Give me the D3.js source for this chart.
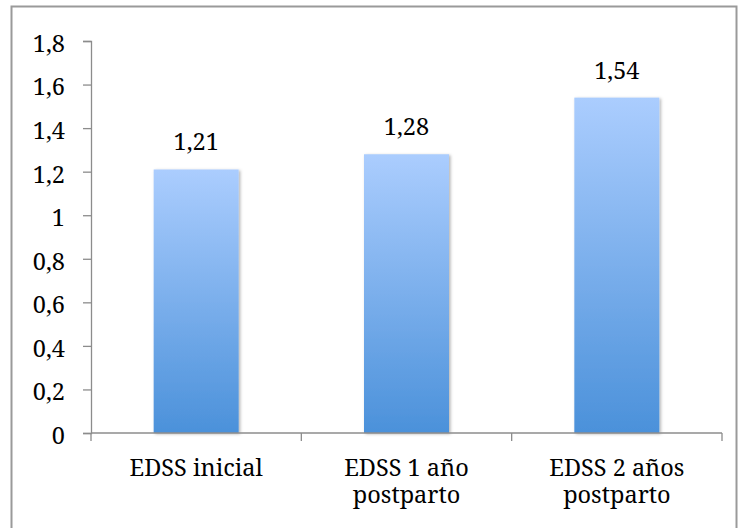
<!DOCTYPE html>
<html>
<head>
<meta charset="utf-8">
<script src="https://cdn.jsdelivr.net/npm/d3@7"></script>
<style>
  html, body { margin: 0; padding: 0; background: #fff; }
  svg { display: block; }
  text { font-family: "Noto Serif", "Liberation Serif", "DejaVu Serif", serif; fill: #000; }
</style>
</head>
<body>
<svg id="chart" width="748" height="528"></svg>
<script>
// EDSS score at baseline and after delivery
const categories = [["EDSS inicial"], ["EDSS 1 año", "postparto"], ["EDSS 2 años", "postparto"]];
const values = [1.21, 1.28, 1.54];
const yTicks = [0, 0.2, 0.4, 0.6, 0.8, 1, 1.2, 1.4, 1.6, 1.8];

const svg = d3.select("#chart");
const plot = { left: 91, right: 722, top: 41, bottom: 433 };
const fontSize = 23.5;
const fmt = v => d3.format("")(v).replace(".", ",");

// outer frame
svg.append("rect")
  .attr("x", 11.5).attr("y", 6.5)
  .attr("width", 725).attr("height", 540)
  .attr("fill", "#fff")
  .attr("stroke", "#9a9a9a").attr("stroke-width", 2);

const defs = svg.append("defs");
const grad = defs.append("linearGradient")
  .attr("id", "barFill").attr("x1", 0).attr("y1", 0).attr("x2", 0).attr("y2", 1);
grad.append("stop").attr("offset", "0%").attr("stop-color", "#abcdfe");
grad.append("stop").attr("offset", "100%").attr("stop-color", "#4b91da");

const shadow = defs.append("filter").attr("id", "barShadow")
  .attr("x", "-20%").attr("y", "-20%").attr("width", "140%").attr("height", "140%");
shadow.append("feDropShadow")
  .attr("dx", 1.5).attr("dy", 1).attr("stdDeviation", 1.5)
  .attr("flood-color", "#000").attr("flood-opacity", 0.3);

const x = d3.scaleBand()
  .domain(d3.range(categories.length))
  .range([plot.left, plot.right])
  .paddingInner(0).paddingOuter(0);

const y = d3.scaleLinear().domain([0, 1.8]).range([plot.bottom, plot.top]);

const barW = 85;

// bars
svg.append("g").selectAll("rect")
  .data(values)
  .join("rect")
  .attr("x", (d, i) => x(i) + x.bandwidth() / 2 - barW / 2)
  .attr("y", d => y(d))
  .attr("width", barW)
  .attr("height", d => y(0) - y(d))
  .attr("fill", "url(#barFill)")
  .attr("filter", "url(#barShadow)");

// value labels
svg.append("g").selectAll("text")
  .data(values)
  .join("text")
  .attr("x", (d, i) => x(i) + x.bandwidth() / 2)
  .attr("y", d => y(d) - 19)
  .attr("text-anchor", "middle")
  .attr("font-size", fontSize)
  .text(d => fmt(d));

// y axis
const yAxis = svg.append("g")
  .attr("transform", `translate(${plot.left},0)`)
  .call(d3.axisLeft(y).tickValues(yTicks).tickSize(8).tickPadding(18).tickFormat(fmt));
yAxis.attr("font-family", null);
yAxis.select(".domain").attr("stroke", "#8c8c8c").attr("stroke-width", 1.3);
yAxis.selectAll(".tick line").attr("stroke", "#8c8c8c").attr("stroke-width", 1.3);
yAxis.selectAll(".tick text")
  .attr("font-size", fontSize)
  .attr("dy", "0.44em")
  .attr("fill", "#000");

// x axis
const xAxisG = svg.append("g").attr("transform", `translate(0,${plot.bottom})`);
xAxisG.append("line")
  .attr("x1", plot.left).attr("x2", plot.right)
  .attr("stroke", "#8c8c8c").attr("stroke-width", 1.3);
const bounds = d3.range(categories.length + 1).map(i => i < categories.length ? x(i) : x(i - 1) + x.bandwidth());
xAxisG.selectAll("line.tk")
  .data(bounds)
  .join("line")
  .attr("class", "tk")
  .attr("x1", d => d).attr("x2", d => d)
  .attr("y1", 0).attr("y2", 8)
  .attr("stroke", "#8c8c8c").attr("stroke-width", 1.3);

const catLabels = xAxisG.selectAll("text.cat")
  .data(categories)
  .join("text")
  .attr("class", "cat")
  .attr("text-anchor", "middle")
  .attr("font-size", fontSize)
  .attr("transform", (d, i) => `translate(${x(i) + x.bandwidth() / 2},${476 - plot.bottom})`);
catLabels.selectAll("tspan")
  .data(d => d)
  .join("tspan")
  .attr("x", 0)
  .attr("dy", (d, j) => j === 0 ? 0 : 27)
  .text(d => d);
</script>
</body>
</html>
